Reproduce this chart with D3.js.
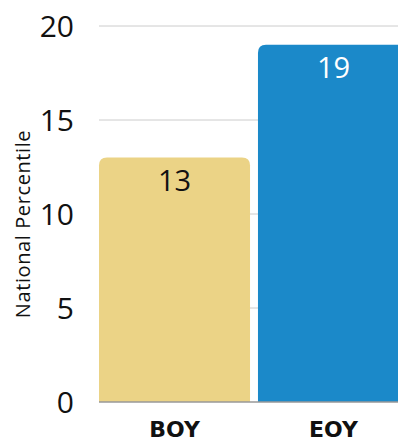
<!DOCTYPE html>
<html>
<head>
<meta charset="utf-8">
<script src="https://cdn.jsdelivr.net/npm/d3@7/dist/d3.min.js"></script>
<style>
  html, body { margin: 0; padding: 0; background: #fff; }
  svg { display: block; }
</style>
</head>
<body>
<script>
const categories = ["BOY", "EOY"];
const values = [13, 19];
const barColors = ["#ebd386", "#1b89c9"];
const labelColors = ["#111111", "#ffffff"];
const yTicks = [0, 5, 10, 15, 20];
const yTitle = "National Percentile";

const W = 398, H = 440;
const margin = { left: 99, top: 26, bottom: 38 };
const svg = d3.select("body").append("svg").attr("width", W).attr("height", H);

const y = d3.scaleLinear().domain([0, 20]).range([H - margin.bottom, margin.top]);
const x = d3.scaleBand().domain(categories).range([margin.left, 409]).paddingInner(0.05).paddingOuter(0);

// gridlines
svg.append("g").selectAll("line").data(yTicks.filter(d => d > 0)).join("line")
  .attr("x1", margin.left).attr("x2", W)
  .attr("y1", d => y(d)).attr("y2", d => y(d))
  .attr("stroke", "#cccccc").attr("stroke-width", 1);

// bars with rounded top corners
const r = 8;
svg.append("g").selectAll("path").data(categories).join("path")
  .attr("fill", (d, i) => barColors[i])
  .attr("d", (d, i) => {
    const x0 = x(d), x1 = x(d) + x.bandwidth(), y0 = y(0), y1 = y(values[i]);
    return `M${x0},${y0}V${y1 + r}Q${x0},${y1} ${x0 + r},${y1}H${x1 - r}Q${x1},${y1} ${x1},${y1 + r}V${y0}Z`;
  });

// zero line
svg.append("line").attr("x1", margin.left).attr("x2", W)
  .attr("y1", y(0)).attr("y2", y(0)).attr("stroke", "#999999").attr("stroke-width", 1.5);

// y tick labels
const yAxis = d3.axisLeft(y).tickValues(yTicks).tickSize(0).tickPadding(0);
const ga = svg.append("g").attr("transform", `translate(74,0)`).call(yAxis);
ga.select(".domain").remove();
ga.selectAll("text").attr("font-family", "'Open Sans', sans-serif").attr("font-size", 30)
  .attr("fill", "#111").attr("dy", "0.36em");

// value labels
svg.append("g").selectAll("text").data(categories).join("text")
  .attr("x", d => x(d) + x.bandwidth() / 2)
  .attr("y", (d, i) => y(values[i]) + 33)
  .attr("text-anchor", "middle")
  .attr("font-family", "'Open Sans', sans-serif").attr("font-size", 29)
  .attr("fill", (d, i) => labelColors[i])
  .text((d, i) => values[i]);

// x labels
const xAxis = d3.axisBottom(x).tickSize(0).tickPadding(0);
const gx = svg.append("g").attr("transform", `translate(0,${y(0)})`).call(xAxis);
gx.select(".domain").remove();
gx.selectAll("text").attr("font-family", "'DejaVu Sans', sans-serif").attr("font-weight", "bold")
  .attr("font-size", 22).attr("fill", "#111").attr("dy", null).attr("y", 35);

// y title
svg.append("text")
  .attr("transform", `translate(30,${(125 + 323) / 2}) rotate(-90)`)
  .attr("text-anchor", "middle")
  .attr("font-family", "'Open Sans', sans-serif").attr("font-size", 20)
  .attr("letter-spacing", 0.6)
  .attr("fill", "#111")
  .text(yTitle);
</script>
</body>
</html>
